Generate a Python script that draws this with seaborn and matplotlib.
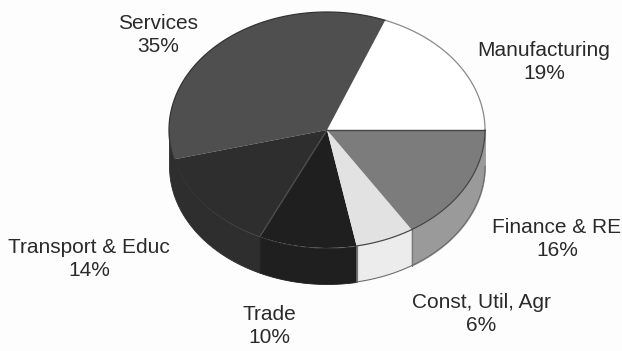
import numpy as np
import matplotlib
matplotlib.use("Agg")
import matplotlib.pyplot as plt
import seaborn as sns

sns.set_theme(style="white")
plt.rcParams["font.family"] = ["Liberation Sans", "DejaVu Sans"]

sectors = ["Manufacturing", "Services", "Transport & Educ", "Trade", "Const, Util, Agr", "Finance & RE"]
shares = [19, 35, 14, 10, 6, 16]
top_colors = ["#ffffff", "#4f4f4f", "#2e2e2e", "#1f1f1f", "#e2e2e2", "#7c7c7c"]
side_colors = ["#ffffff", "#2e2e2e", "#2e2e2e", "#1f1f1f", "#ececec", "#9a9a9a"]
rim_colors = ["#8a8a8a", "#333333", None, None, "#4a4a4a", "#444444"]

W, H = 622, 351
CX, CY, RX, RY = 327, 130, 158, 118
DEPTH = 36 / RY

fig = plt.figure(figsize=(W / 100, H / 100), dpi=100, facecolor="#fdfdfd")
ax = fig.add_axes([0, 0, 1, 1])

# Side wall of the disc, one band per sector on the visible front half
edges = np.concatenate([[0], np.cumsum(shares)]) / sum(shares) * 2 * np.pi
for start, end, col in zip(edges[:-1], edges[1:], side_colors):
    lo, hi = max(start, np.pi), min(end, 2 * np.pi)
    if hi <= lo:
        continue
    t = np.linspace(lo, hi, 80)
    ax.fill_between(np.cos(t), np.sin(t), np.sin(t) - DEPTH, color=col, lw=0.6, zorder=1)
# Seams between the pale side bands
for seam in edges[4:6]:
    ax.plot([np.cos(seam)] * 2, [np.sin(seam), np.sin(seam) - DEPTH], color="#777777", lw=0.9, zorder=1.5)
# Lower outline only shows against the pale bands
t = np.linspace(edges[4], 2 * np.pi, 120)
ax.plot(np.cos(t), np.sin(t) - DEPTH, color="#666666", lw=0.7, zorder=1.6)

# Top face: a regular pie stretched into an ellipse by the axis limits
wedges, _ = ax.pie(shares, colors=top_colors, startangle=0, counterclock=True,
                   radius=1, wedgeprops=dict(linewidth=0))
for w in wedges:
    w.set_zorder(2)
for start, end, col in zip(edges[:-1], edges[1:], rim_colors):
    if col is None:
        continue
    t = np.linspace(start, end, 120)
    ax.plot(np.cos(t), np.sin(t), color=col, lw=0.9, zorder=3)
ax.plot([0, 1], [0, 0], color="#444444", lw=1.0, zorder=3)
# Faint divider between the two darkest sectors
ax.plot([0, np.cos(edges[3])], [0, np.sin(edges[3])], color="#4c4c4c", lw=1.0, zorder=3)

ax.set_aspect("auto")
ax.set_xlim(-CX / RX, (W - CX) / RX)
ax.set_ylim((CY - H) / RY, CY / RY)
ax.axis("off")

# Sector captions, placed in pixel fractions of the figure
label_pos = [(544, 62), (158, 35), (89, 259), (269, 326), (481, 314), (557, 239)]
for name, share, (px, py) in zip(sectors, shares, label_pos):
    fig.text(px / W, 1 - py / H, f"{name}\n{share}%", ha="center", va="center",
             fontsize=15, color="#2a2a2a", linespacing=1.3)

fig.savefig("out.png", dpi=100, facecolor=fig.get_facecolor())
